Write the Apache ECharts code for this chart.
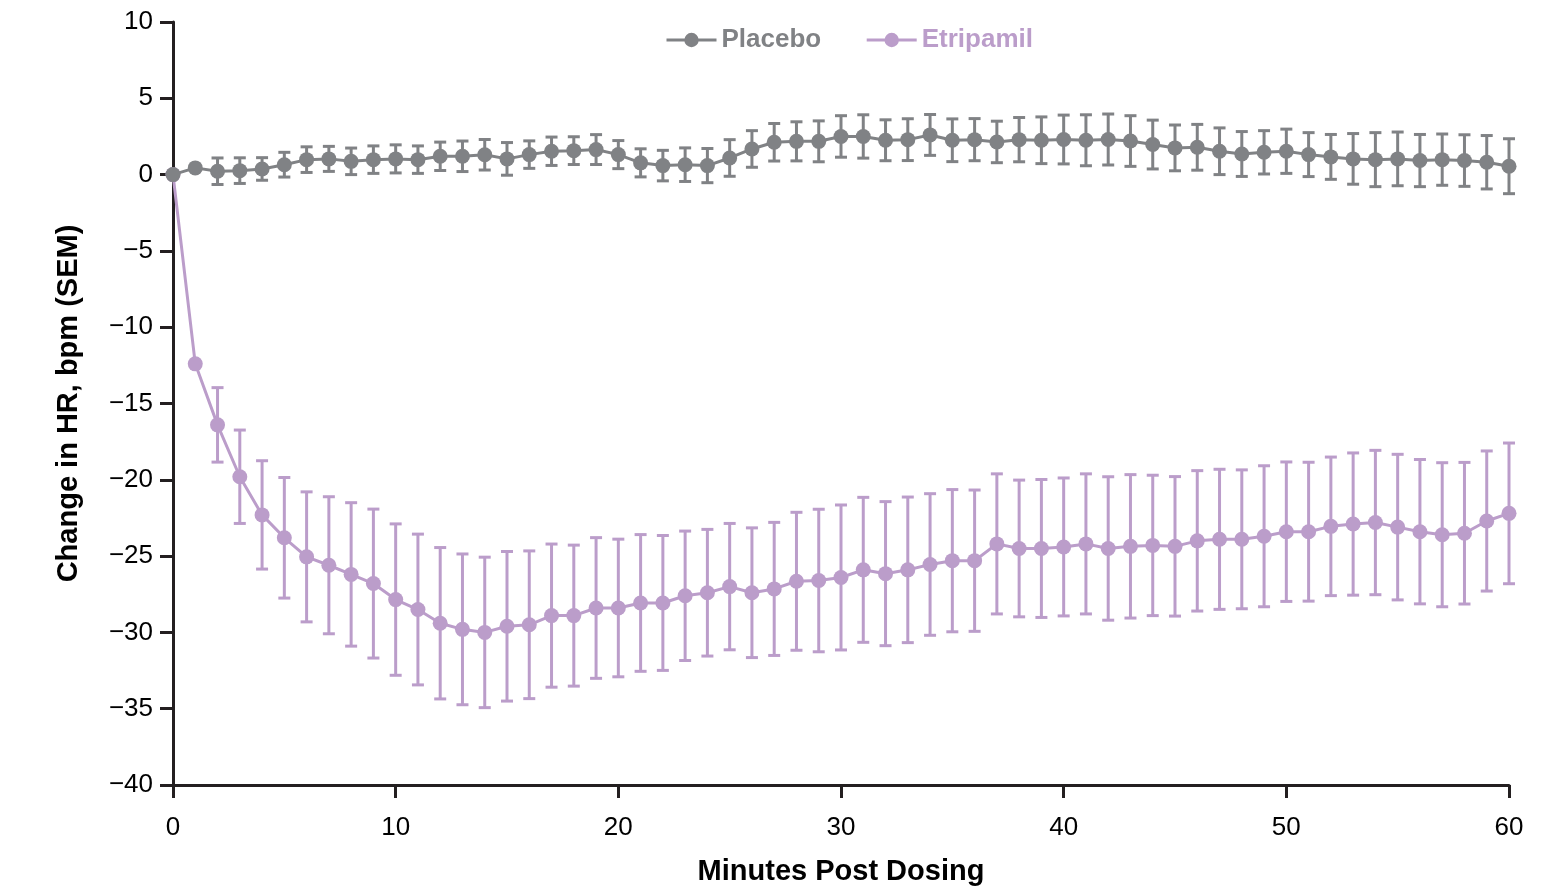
<!DOCTYPE html>
<html>
<head>
<meta charset="utf-8">
<script src="https://cdn.jsdelivr.net/npm/echarts@6/dist/echarts.min.js"></script>
<style>
  html, body { margin: 0; padding: 0; background: #fff; }
  #chart { width: 1554px; height: 886px; }
</style>
</head>
<body>
<div id="chart"></div>
<script>
// minutes post dosing
const minutes = [];
for (let m = 0; m <= 60; m++) minutes.push(m);

// placebo mean change and SEM
const placeboMean = [0, 0.44, 0.22, 0.26, 0.37, 0.65, 0.98, 1.03, 0.87, 0.98,
  1.03, 0.98, 1.2, 1.2, 1.3, 1.03, 1.31, 1.53, 1.57, 1.64,
  1.31, 0.77, 0.59, 0.65, 0.59, 1.09, 1.68, 2.12, 2.18, 2.18,
  2.5, 2.5, 2.25, 2.29, 2.6, 2.25, 2.29, 2.14, 2.29, 2.25,
  2.3, 2.25, 2.3, 2.2, 1.97, 1.75, 1.79, 1.53, 1.35, 1.46,
  1.53, 1.31, 1.16, 1.03, 0.98, 1.03, 0.92, 0.98, 0.92, 0.81, 0.55];
const placeboSem = [0, 0, 0.87, 0.84, 0.74, 0.81, 0.84, 0.82, 0.87, 0.9,
  0.92, 0.9, 0.93, 1.0, 1.0, 1.07, 0.9, 0.93, 0.91, 0.98,
  0.92, 0.92, 1.0, 1.1, 1.12, 1.2, 1.2, 1.23, 1.28, 1.34,
  1.36, 1.42, 1.34, 1.37, 1.34, 1.4, 1.38, 1.36, 1.45, 1.53,
  1.6, 1.67, 1.67, 1.66, 1.6, 1.5, 1.5, 1.53, 1.47, 1.42,
  1.45, 1.44, 1.47, 1.66, 1.77, 1.76, 1.71, 1.68, 1.69, 1.75, 1.8];

// etripamil mean change and SEM
const etripamilMean = [0, -12.4, -16.4, -19.8, -22.3, -23.8, -25.05, -25.6, -26.2, -26.8,
  -27.85, -28.5, -29.4, -29.8, -30.0, -29.6, -29.5, -28.9, -28.9, -28.4,
  -28.4, -28.07, -28.07, -27.6, -27.4, -27.0, -27.4, -27.15, -26.65, -26.6,
  -26.4, -25.9, -26.15, -25.9, -25.55, -25.3, -25.3, -24.2, -24.5, -24.5,
  -24.4, -24.2, -24.5, -24.36, -24.3, -24.36, -24.0, -23.9, -23.9, -23.7,
  -23.4, -23.4, -23.05, -22.9, -22.8, -23.1, -23.4, -23.6, -23.5, -22.7, -22.2];
const etripamilSem = [0, 0, 2.44, 3.06, 3.55, 3.95, 4.26, 4.49, 4.7, 4.88,
  4.96, 4.94, 4.96, 4.94, 4.93, 4.9, 4.84, 4.69, 4.62, 4.61,
  4.51, 4.48, 4.42, 4.24, 4.15, 4.14, 4.25, 4.36, 4.52, 4.67,
  4.75, 4.75, 4.72, 4.77, 4.64, 4.66, 4.63, 4.59, 4.48, 4.52,
  4.52, 4.59, 4.7, 4.7, 4.6, 4.57, 4.6, 4.59, 4.55, 4.62,
  4.57, 4.55, 4.54, 4.66, 4.73, 4.77, 4.73, 4.72, 4.64, 4.59, 4.61];

const grey = '#808285';
const purple = '#bb9dca';
const axisColor = '#231f20';

const pairs = (ys) => minutes.map((m, i) => [m, ys[i]]);
const bars = (ys, es) => minutes.map((m, i) => [m, ys[i] - es[i], ys[i] + es[i]]);

// error bar with caps, skipped where SEM is 0
const errorBar = (color) => (params, api) => {
  const lo = api.value(1), hi = api.value(2);
  if (hi - lo <= 0) return;
  const top = api.coord([api.value(0), hi]);
  const bot = api.coord([api.value(0), lo]);
  const w = 6;
  const style = { stroke: color, lineWidth: 3 };
  return {
    type: 'group',
    children: [
      { type: 'line', shape: { x1: top[0], y1: top[1], x2: bot[0], y2: bot[1] }, style },
      { type: 'line', shape: { x1: top[0] - w, y1: top[1], x2: top[0] + w, y2: top[1] }, style },
      { type: 'line', shape: { x1: bot[0] - w, y1: bot[1], x2: bot[0] + w, y2: bot[1] }, style }
    ]
  };
};

const minus = (v) => String(v).replace('-', '\u2212');
const font = 'Liberation Sans, Arial, sans-serif';

const myChart = echarts.init(document.getElementById('chart'));
myChart.setOption({
  animation: false,
  textStyle: { fontFamily: font },
  grid: { left: 173, right: 45, top: 22, bottom: 101, outerBoundsMode: 'none', containLabel: false },
  legend: {
    top: 22,
    left: 660,
    itemWidth: 50,
    itemHeight: 18,
    itemGap: 44,
    lineStyle: { width: 3 },
    data: [
      { name: 'Placebo', textStyle: { color: grey } },
      { name: 'Etripamil', textStyle: { color: purple } }
    ],
    textStyle: { fontSize: 26, fontWeight: 'bold', fontFamily: font }
  },
  xAxis: {
    type: 'value',
    min: 0,
    max: 60,
    interval: 10,
    name: 'Minutes Post Dosing',
    nameLocation: 'middle',
    nameGap: 72,
    nameTextStyle: { fontSize: 29, fontWeight: 'bold', color: '#000' },
    axisLine: { onZero: false, lineStyle: { color: axisColor, width: 3 } },
    axisTick: { length: 13, lineStyle: { color: axisColor, width: 3 } },
    axisLabel: { fontSize: 26, color: '#000', margin: 30 },
    splitLine: { show: false }
  },
  yAxis: {
    type: 'value',
    min: -40,
    max: 10,
    interval: 5,
    name: 'Change in HR, bpm (SEM)',
    nameLocation: 'middle',
    nameGap: 90,
    nameTextStyle: { fontSize: 29, fontWeight: 'bold', color: '#000' },
    axisLine: { show: true, onZero: false, lineStyle: { color: axisColor, width: 3 } },
    axisTick: { show: true, length: 13, lineStyle: { color: axisColor, width: 3 } },
    axisLabel: { fontSize: 26, color: '#000', margin: 20, formatter: minus },
    splitLine: { show: false }
  },
  series: [
    {
      name: 'Placebo-err',
      type: 'custom',
      renderItem: errorBar(grey),
      encode: { x: 0, y: [1, 2] },
      data: bars(placeboMean, placeboSem),
      z: 2
    },
    {
      name: 'Etripamil-err',
      type: 'custom',
      renderItem: errorBar(purple),
      encode: { x: 0, y: [1, 2] },
      data: bars(etripamilMean, etripamilSem),
      z: 2
    },
    {
      name: 'Etripamil',
      type: 'line',
      data: pairs(etripamilMean),
      symbol: 'circle',
      symbolSize: 15,
      color: purple,
      lineStyle: { width: 3, color: purple },
      itemStyle: { color: purple },
      z: 3
    },
    {
      name: 'Placebo',
      type: 'line',
      data: pairs(placeboMean),
      symbol: 'circle',
      symbolSize: 15,
      color: grey,
      lineStyle: { width: 3, color: grey },
      itemStyle: { color: grey },
      z: 4
    }
  ]
});
</script>
</body>
</html>
